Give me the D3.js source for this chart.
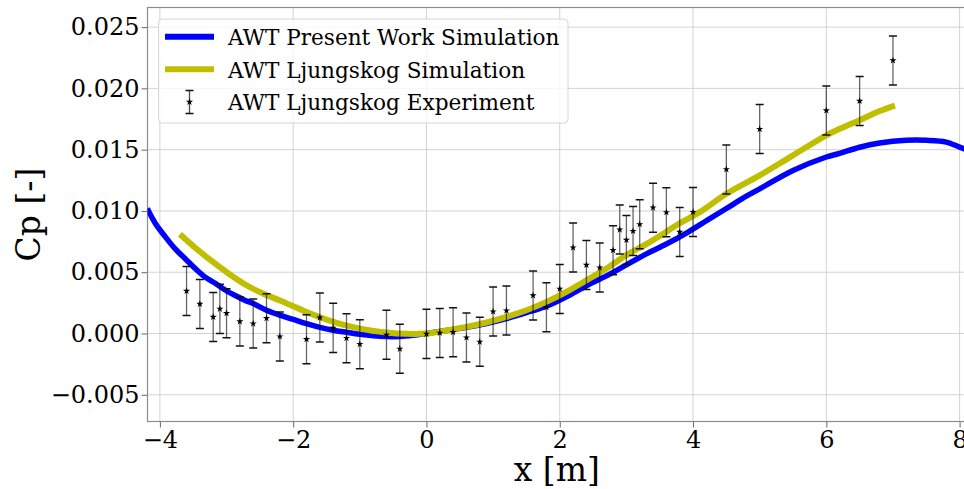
<!DOCTYPE html>
<html><head><meta charset="utf-8">
<script src="https://cdn.jsdelivr.net/npm/d3@7"></script>
<style>body{margin:0;background:#fff}svg{display:block}</style>
</head><body><svg id="c" width="964" height="489"></svg>
<script>
// ---- data ----
const xTicks = [-4, -2, 0, 2, 4, 6, 8];
const yTicks = [-0.005, 0, 0.005, 0.010, 0.015, 0.020, 0.025];
const seriesNames = ["AWT Present Work Simulation", "AWT Ljungskog Simulation", "AWT Ljungskog Experiment"];

const presentX = [-4.19,-4.07,-3.92,-3.77,-3.62,-3.47,-3.32,-3.17,-3.02,-2.87,-2.72,-2.6,-2.4,-2.2,-2.0,-1.8,-1.6,-1.4,-1.2,-1.0,-0.8,-0.6,-0.4,-0.2,0.0,0.3,0.6,0.9,1.2,1.5,1.8,2.1,2.4,2.7,3.0,3.3,3.6,3.9,4.2,4.5,4.8,5.0,5.5,6.0,6.2,6.5,6.8,7.2,7.5,7.8,8.0,8.1];
const presentY = [0.0102,0.0090,0.0079,0.0069,0.0061,0.0053,0.0046,0.0041,0.00355,0.0031,0.0027,0.00245,0.0019,0.0015,0.00115,0.0008,0.0005,0.00027,0.0001,-0.00006,-0.00018,-0.00025,-0.00025,-0.00015,0.0,0.00025,0.0005,0.00082,0.00122,0.0017,0.00223,0.0030,0.0039,0.0047,0.0056,0.0065,0.0073,0.0082,0.0092,0.0102,0.0112,0.0118,0.0133,0.0144,0.0147,0.0152,0.01554,0.01576,0.01576,0.01562,0.01521,0.0150];

const ljSimX = [-3.70,-3.47,-3.22,-2.97,-2.72,-2.47,-2.2,-1.8,-1.4,-1.0,-0.6,-0.3,0.0,0.3,0.6,0.9,1.2,1.5,1.8,2.1,2.4,2.7,3.0,3.3,3.6,3.8,4.1,4.5,5.0,5.5,6.0,6.2,6.5,6.8,7.03];
const ljSimY = [0.0081,0.0070,0.0059,0.0049,0.0040,0.0033,0.0027,0.00176,0.00095,0.0004,0.00008,-0.00003,0.0,0.00025,0.00054,0.0009,0.00135,0.0019,0.00258,0.0034,0.00434,0.0053,0.0064,0.0073,0.0083,0.0090,0.0099,0.0114,0.0129,0.01454,0.01617,0.0167,0.0174,0.01815,0.0186];

const expX = [-3.6,-3.4,-3.2,-3.1,-3.0,-2.8,-2.6,-2.4,-2.2,-1.8,-1.6,-1.4,-1.2,-1.0,-0.6,-0.4,0.0,0.2,0.4,0.6,0.8,1.0,1.2,1.6,1.8,2.0,2.2,2.4,2.6,2.8,2.9,3.0,3.1,3.2,3.4,3.6,3.8,4.0,4.5,5.0,6.0,6.5,7.0];
const expY = [0.00347,0.00241,0.00135,0.00201,0.00165,0.00098,0.00081,0.00125,-0.00025,-0.00047,0.0013,0.00046,-0.00038,-0.00087,-0.00011,-0.00125,-0.00003,0.00005,0.0001,-0.00033,-0.00068,0.00179,0.00187,0.0031,0.00214,0.00364,0.00701,0.00559,0.00538,0.00679,0.00848,0.00763,0.00836,0.00891,0.01027,0.00989,0.00828,0.00991,0.01339,0.01668,0.0182,0.01897,0.02228];
const expErr = expX.map(() => 0.002);

// ---- layout ----
const svg = d3.select("#c");
const L = 147.5, R = 966, T = 7.5, B = 421.5;
const x = d3.scaleLinear().domain([-4.186, 8.096]).range([L, R]);
const y = d3.scaleLinear().domain([-0.00718, 0.0266]).range([B, T]);
const FONT = "'DejaVu Serif', serif";
const BLUE = "#0000ff", YEL = "#bfbf00";

svg.append("defs").append("clipPath").attr("id", "clip")
  .append("rect").attr("x", L).attr("y", T).attr("width", R - L).attr("height", B - T);

// grid
const g = svg.append("g");
g.selectAll(".gx").data(xTicks).join("line")
  .attr("x1", d => x(d)).attr("x2", d => x(d)).attr("y1", T).attr("y2", B)
  .attr("stroke", "#d3d3d3").attr("stroke-width", 1);
g.selectAll(".gy").data(yTicks).join("line")
  .attr("x1", L).attr("x2", R).attr("y1", d => y(d)).attr("y2", d => y(d))
  .attr("stroke", "#d3d3d3").attr("stroke-width", 1);

// axes
const xAxis = svg.append("g").attr("transform", `translate(0,${B})`)
  .call(d3.axisBottom(x).tickValues(xTicks).tickFormat(d3.format("d")).tickSize(6).tickPadding(3).tickSizeOuter(0));
const yAxis = svg.append("g").attr("transform", `translate(${L},0)`)
  .call(d3.axisLeft(y).tickValues(yTicks).tickFormat(d3.format(".3f")).tickSize(6).tickPadding(2).tickSizeOuter(0));
[xAxis, yAxis].forEach(a => {
  a.selectAll("text").attr("font-family", FONT).attr("font-size", 24).attr("fill", "#000");
  a.selectAll(".tick line").attr("stroke", "#666").attr("stroke-width", 1);
  a.select(".domain").remove();
});
// spines
svg.append("rect").attr("x", L).attr("y", T).attr("width", R - L).attr("height", B - T)
  .attr("fill", "none").attr("stroke", "#8c8c8c").attr("stroke-width", 1.2);

// lines
const plot = svg.append("g").attr("clip-path", "url(#clip)");
const line = d3.line().x(d => x(d[0])).y(d => y(d[1])).curve(d3.curveCatmullRom);
plot.append("path").datum(presentX.map((v, i) => [v, presentY[i]]))
  .attr("d", line).attr("fill", "none").attr("stroke", BLUE).attr("stroke-width", 5.5);
plot.append("path").datum(ljSimX.map((v, i) => [v, ljSimY[i]]))
  .attr("d", line).attr("fill", "none").attr("stroke", YEL).attr("stroke-width", 6);

// experiment with error bars
const star = d3.symbol().type(d3.symbolStar).size(16);
const ex = plot.append("g");
expX.forEach((xv, i) => {
  const px = x(xv), top = y(expY[i] + expErr[i]), bot = y(expY[i] - expErr[i]);
  ex.append("line").attr("x1", px).attr("x2", px).attr("y1", top).attr("y2", bot)
    .attr("stroke", "#000").attr("stroke-opacity", 0.6).attr("stroke-width", 1.3);
  [top, bot].forEach(cy => ex.append("line").attr("x1", px - 4).attr("x2", px + 4).attr("y1", cy).attr("y2", cy)
    .attr("stroke", "#111").attr("stroke-width", 1.5));
  ex.append("path").attr("d", star).attr("transform", `translate(${px},${y(expY[i])})`).attr("fill", "#000");
});

// axis labels
svg.append("text").attr("x", (L + R) / 2).attr("y", 481).attr("text-anchor", "middle")
  .attr("font-family", FONT).attr("font-size", 33).text("x [m]");
svg.append("text").attr("transform", "translate(40,214.5) rotate(-90)").attr("text-anchor", "middle")
  .attr("font-family", FONT).attr("font-size", 33).text("Cp [-]");

// legend
const lg = svg.append("g");
lg.append("rect").attr("x", 158.5).attr("y", 19).attr("width", 409.5).attr("height", 104).attr("rx", 4)
  .attr("fill", "#fff").attr("fill-opacity", 0.8).attr("stroke", "#d6d6d6").attr("stroke-width", 1);
const rows = [36.7, 69.3, 102];
lg.append("line").attr("x1", 165).attr("x2", 214).attr("y1", rows[0]).attr("y2", rows[0]).attr("stroke", BLUE).attr("stroke-width", 6);
lg.append("line").attr("x1", 165).attr("x2", 214).attr("y1", rows[1]).attr("y2", rows[1]).attr("stroke", YEL).attr("stroke-width", 6);
lg.append("line").attr("x1", 189.5).attr("x2", 189.5).attr("y1", rows[2] - 11.5).attr("y2", rows[2] + 11.5)
  .attr("stroke", "#000").attr("stroke-opacity", 0.7).attr("stroke-width", 1.3);
[rows[2] - 11.5, rows[2] + 11.5].forEach(cy => lg.append("line").attr("x1", 185.5).attr("x2", 193.5).attr("y1", cy).attr("y2", cy).attr("stroke", "#111").attr("stroke-width", 1.5));
lg.append("path").attr("d", star).attr("transform", `translate(189.5,${rows[2]})`).attr("fill", "#000");
lg.selectAll("text.lt").data(seriesNames).join("text")
  .attr("x", 228).attr("y", (d, i) => rows[i] + 8.2)
  .attr("font-family", FONT).attr("font-size", 21.6).attr("fill", "#000").text(d => d);
</script></body></html>
